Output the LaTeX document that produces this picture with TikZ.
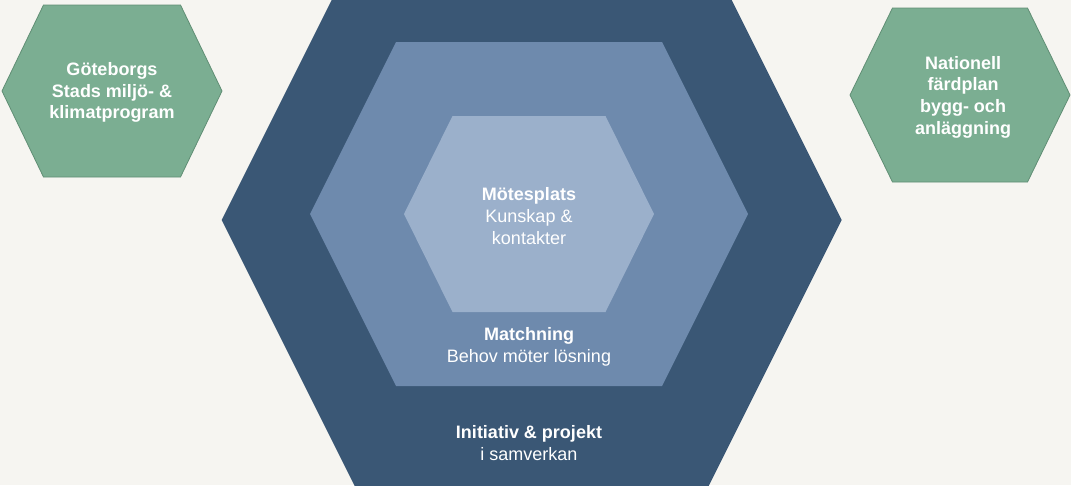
\documentclass[tikz,border=0pt]{standalone}
\usepackage{fontspec}
\setmainfont{Liberation Sans}
\definecolor{bgc}{RGB}{246,245,241}
\definecolor{navy}{RGB}{58,87,117}
\definecolor{midblue}{RGB}{110,138,173}
\definecolor{lightblue}{RGB}{155,176,203}
\definecolor{sage}{RGB}{123,174,146}
\definecolor{sageedge}{RGB}{96,142,116}
\newcommand\myhexagon[6]{%
  \path[#6] ({#1-#3},{#2}) -- ({#1-#4},{#2-#5}) -- ({#1+#4},{#2-#5}) -- ({#1+#3},{#2}) -- ({#1+#4},{#2+#5}) -- ({#1-#4},{#2+#5}) -- cycle;}
\tikzset{
  outerhex/.style={fill=navy},
  midhex/.style={fill=midblue},
  innerhex/.style={fill=lightblue},
  greenhex/.style={fill=sage, draw=sageedge, line width=0.8pt},
  lbl/.style={text=white, align=center, inner sep=0pt, font=\fontsize{18}{21.7}\selectfont},
}
\begin{document}
\begin{tikzpicture}[x=1pt,y=-1pt]
\fill[bgc] (0,0) rectangle (1071,485);
\useasboundingbox (0,0) rectangle (1071,485);
\begin{scope}
\clip (0,0) rectangle (1071,485);
\myhexagon{531.7}{220}{310}{160}{300}{outerhex}
\myhexagon{529}{214}{219}{133}{172}{midhex}
\myhexagon{529}{214}{125}{76.5}{98}{innerhex}
\myhexagon{112}{91}{110}{68.5}{86}{greenhex}
\myhexagon{960}{95}{110}{67.5}{87}{greenhex}
\end{scope}
\node[lbl, font=\fontsize{18}{21.7}\selectfont\bfseries] (gbg) at (112,92.5) {Göteborgs\\Stads miljö- \&\\klimatprogram};
\node[lbl, font=\fontsize{18}{21.7}\selectfont\bfseries] (nat) at (963,97) {Nationell\\färdplan\\bygg- och\\anläggning};
\node[lbl] (mote) at (529,216) {\textbf{Mötesplats}\\Kunskap \&\\kontakter};
\node[lbl] (match) at (529,347) {\textbf{Matchning}\\Behov möter lösning};
\node[lbl] (init) at (529,443) {\textbf{Initiativ \& projekt}\\i samverkan};
\end{tikzpicture}
\end{document}
